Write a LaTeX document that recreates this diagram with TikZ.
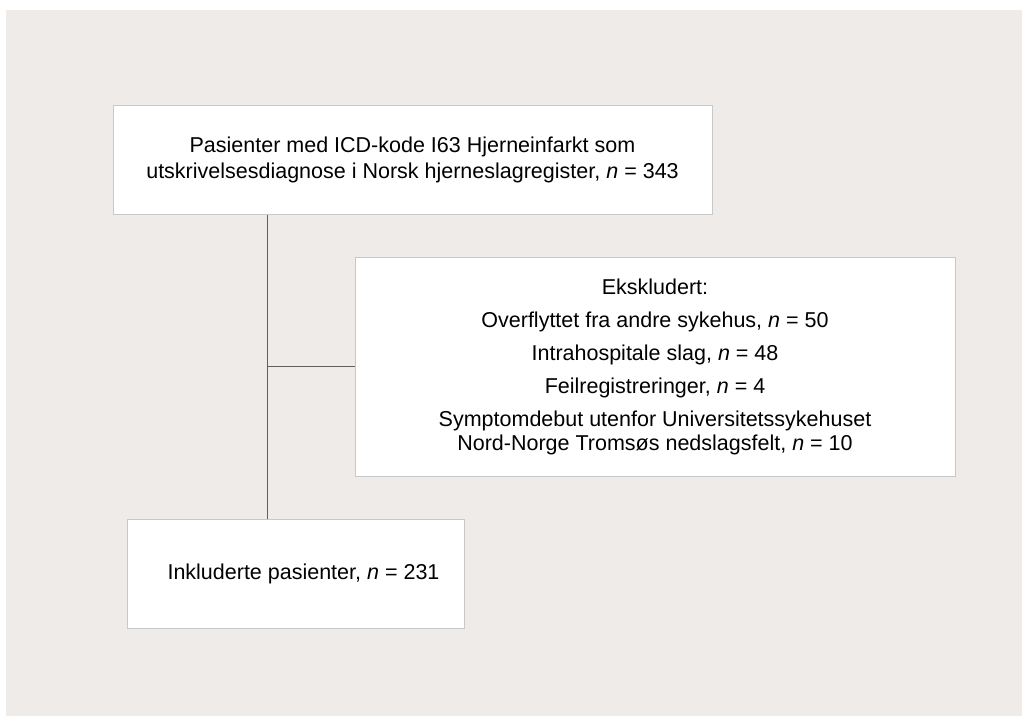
\documentclass[tikz,border=0pt]{standalone}
\usepackage{fontspec}
\setmainfont{Liberation Sans}
\usepackage{tikz}
\definecolor{bakgrunn}{RGB}{238,235,233}
\definecolor{ramme}{RGB}{200,200,200}
\definecolor{strek}{RGB}{95,95,95}
\tikzset{
  boks/.style={draw=ramme, line width=1pt, fill=white, inner sep=0pt,
    align=center, font=\fontsize{21.5}{26}\selectfont},
  linje/.style={draw=strek, line width=1pt}
}
\newcommand{\antall}[1]{\textit{n} = #1}
\begin{document}
\begin{tikzpicture}[x=1pt,y=-1pt]
			\useasboundingbox (0,0) rectangle (1022,716);
			\fill[white] (0,0) rectangle (1022,716);
			\fill[bakgrunn] (6,10) rectangle (1022,716);
			\node[boks, minimum width=599pt, minimum height=109pt] (pasienter) at (412.5,159.5)
				{Pasienter med ICD-kode I63 Hjerneinfarkt som\\utskrivelsesdiagnose i Norsk hjerneslagregister, \antall{343}};
			\node[boks, minimum width=600pt, minimum height=219pt, font=\fontsize{21.5}{24}\selectfont] (ekskludert) at (655,366.5)
				{Ekskludert:\\[9pt]
				 Overflyttet fra andre sykehus, \antall{50}\\[9pt]
				 Intrahospitale slag, \antall{48}\\[9pt]
				 Feilregistreringer, \antall{4}\\[9pt]
				 Symptomdebut utenfor Universitetssykehuset\\Nord-Norge Tromsøs nedslagsfelt, \antall{10}};
			\node[boks, minimum width=337pt, minimum height=109pt] (inkluderte) at (295.5,573.5)
				{\hspace*{16pt}Inkluderte pasienter, \antall{231}};
			\coordinate (kryss) at (267,366.5);
			\draw[linje] (pasienter.south -| kryss) -- (inkluderte.north -| kryss);
			\draw[linje] (kryss) -- (ekskludert.west);
		\end{tikzpicture}
\end{document}
